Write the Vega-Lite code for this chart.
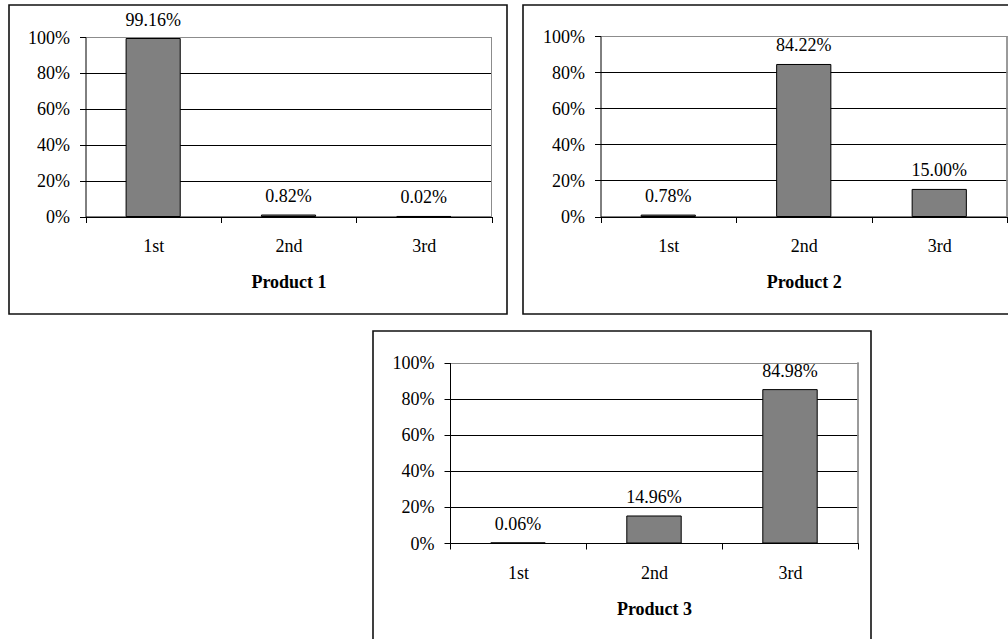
{
  "$schema": "https://vega.github.io/schema/vega-lite/v6.json",
  "autosize": {"type": "pad"},
  "padding": {"left": 8, "top": 4, "right": 0, "bottom": 0},
  "background": "white",
  "datasets": {
    "shares": [
      {"product": "Product 1", "rank": "1st", "share": 0.9916},
      {"product": "Product 1", "rank": "2nd", "share": 0.0082},
      {"product": "Product 1", "rank": "3rd", "share": 0.0002},
      {"product": "Product 2", "rank": "1st", "share": 0.0078},
      {"product": "Product 2", "rank": "2nd", "share": 0.8422},
      {"product": "Product 2", "rank": "3rd", "share": 0.15},
      {"product": "Product 3", "rank": "1st", "share": 0.0006},
      {"product": "Product 3", "rank": "2nd", "share": 0.1496},
      {"product": "Product 3", "rank": "3rd", "share": 0.8498}
    ]
  },
  "config": {
    "font": "Liberation Serif",
    "view": {"stroke": "#111111", "strokeWidth": 1.6},
    "axis": {
      "labelFont": "Liberation Serif",
      "labelFontSize": 18,
      "labelColor": "black",
      "titleFont": "Liberation Serif",
      "titleFontSize": 18,
      "titleFontWeight": "bold",
      "titleColor": "black",
      "tickColor": "black",
      "domainColor": "black",
      "tickSize": 6,
      "tickWidth": 1,
      "domainWidth": 1,
      "gridWidth": 1
    },
    "text": {"font": "Liberation Serif", "fontSize": 18, "color": "black"}
  },
  "spacing": 15,
  "vconcat": [
    {
      "spacing": 14,
      "hconcat": [
        {
          "width": 498, "height": 309,
          "data": {"name": "shares"},
          "transform": [{"filter": "datum.product === 'Product 1'"}],
          "encoding": {
            "x": {"field": "rank", "type": "nominal",
              "scale": {"domain": ["1st", "2nd", "3rd"], "range": [76.5, 482.5], "paddingInner": 0, "paddingOuter": 0},
              "axis": {"title": "Product 1", "offset": -97.5, "tickBand": "extent", "labelAngle": 0, "labelPadding": 15, "titlePadding": 18, "grid": false}},
            "y": {"field": "share", "type": "quantitative",
              "scale": {"domain": [0, 1], "range": [211.5, 32], "nice": false, "zero": true},
              "axis": {"title": null, "offset": -76.5, "values": [0, 0.2, 0.4, 0.6, 0.8, 1], "format": ".0%", "labelPadding": 10, "labelOffset": 1, "grid": true,
                "gridColor": {"condition": {"test": "datum.value >= 1", "value": "#8c8c8c"}, "value": "black"}}}
          },
          "layer": [
            {"mark": {"type": "bar", "width": {"band": 0.4}, "fill": "#808080", "stroke": "black", "strokeWidth": 1}},
            {"mark": {"type": "text", "baseline": "middle", "dy": -18}, "encoding": {"text": {"field": "share", "type": "quantitative", "format": ".2%"}}},
            {"mark": {"type": "rule", "color": "#8c8c8c"},
              "encoding": {"x": {"datum": "3rd", "type": "nominal", "bandPosition": 1}, "y": {"datum": 0, "type": "quantitative"}, "y2": {"datum": 1}}}
          ]
        },
        {
          "width": 500, "height": 309,
          "data": {"name": "shares"},
          "transform": [{"filter": "datum.product === 'Product 2'"}],
          "encoding": {
            "x": {"field": "rank", "type": "nominal",
              "scale": {"domain": ["1st", "2nd", "3rd"], "range": [77.5, 484], "paddingInner": 0, "paddingOuter": 0},
              "axis": {"title": "Product 2", "offset": -97.5, "tickBand": "extent", "labelAngle": 0, "labelPadding": 15, "titlePadding": 18, "grid": false}},
            "y": {"field": "share", "type": "quantitative",
              "scale": {"domain": [0, 1], "range": [211.5, 31], "nice": false, "zero": true},
              "axis": {"title": null, "offset": -77.5, "values": [0, 0.2, 0.4, 0.6, 0.8, 1], "format": ".0%", "labelPadding": 10, "labelOffset": 1, "grid": true,
                "gridColor": {"condition": {"test": "datum.value >= 1", "value": "#8c8c8c"}, "value": "black"}}}
          },
          "layer": [
            {"mark": {"type": "bar", "width": {"band": 0.4}, "fill": "#808080", "stroke": "black", "strokeWidth": 1}},
            {"mark": {"type": "text", "baseline": "middle", "dy": -18}, "encoding": {"text": {"field": "share", "type": "quantitative", "format": ".2%"}}},
            {"mark": {"type": "rule", "color": "#8c8c8c"},
              "encoding": {"x": {"datum": "3rd", "type": "nominal", "bandPosition": 1}, "y": {"datum": 0, "type": "quantitative"}, "y2": {"datum": 1}}}
          ]
        }
      ]
    },
    {
      "spacing": 0,
      "hconcat": [
        {
          "width": 362, "height": 10,
          "view": {"stroke": "transparent"},
          "data": {"values": [{}]},
          "mark": {"type": "point", "opacity": 0}
        },
        {
          "width": 498, "height": 309,
          "data": {"name": "shares"},
          "transform": [{"filter": "datum.product === 'Product 3'"}],
          "encoding": {
            "x": {"field": "rank", "type": "nominal",
              "scale": {"domain": ["1st", "2nd", "3rd"], "range": [77, 485], "paddingInner": 0, "paddingOuter": 0},
              "axis": {"title": "Product 3", "offset": -97, "tickBand": "extent", "labelAngle": 0, "labelPadding": 15, "titlePadding": 18, "grid": false}},
            "y": {"field": "share", "type": "quantitative",
              "scale": {"domain": [0, 1], "range": [212, 31.5], "nice": false, "zero": true},
              "axis": {"title": null, "offset": -77, "values": [0, 0.2, 0.4, 0.6, 0.8, 1], "format": ".0%", "labelPadding": 10, "labelOffset": 1, "grid": true,
                "gridColor": {"condition": {"test": "datum.value >= 1", "value": "#8c8c8c"}, "value": "black"}}}
          },
          "layer": [
            {"mark": {"type": "bar", "width": {"band": 0.4}, "fill": "#808080", "stroke": "black", "strokeWidth": 1}},
            {"mark": {"type": "text", "baseline": "middle", "dy": -18}, "encoding": {"text": {"field": "share", "type": "quantitative", "format": ".2%"}}},
            {"mark": {"type": "rule", "color": "#8c8c8c"},
              "encoding": {"x": {"datum": "3rd", "type": "nominal", "bandPosition": 1}, "y": {"datum": 0, "type": "quantitative"}, "y2": {"datum": 1}}}
          ]
        }
      ]
    }
  ]
}
